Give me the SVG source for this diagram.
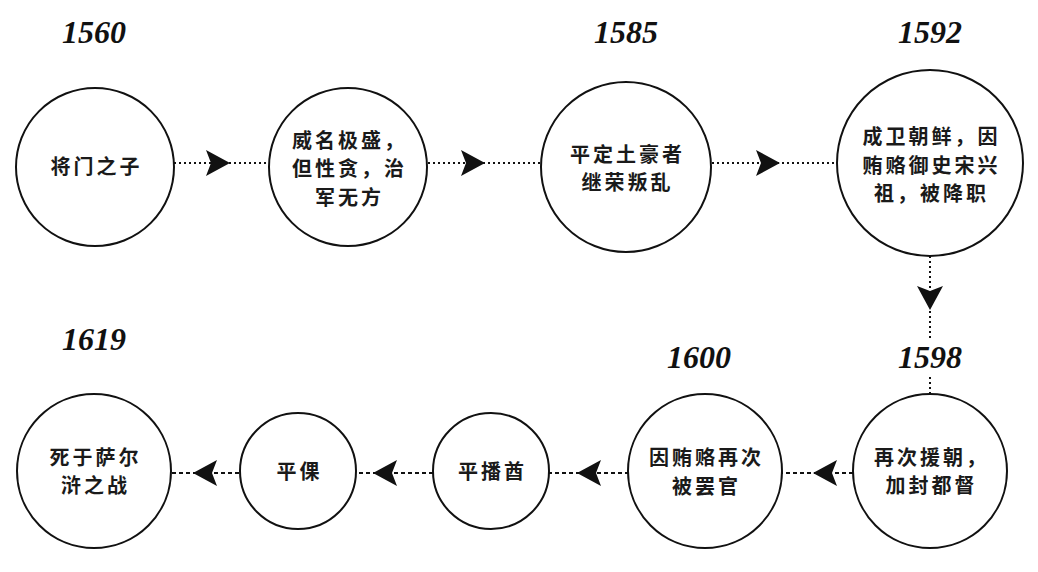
<svg xmlns="http://www.w3.org/2000/svg" width="1038" height="572" viewBox="0 0 1038 572">
<style>
.node{fill:#fff;stroke:#111;stroke-width:2}
.t{font-family:"Noto Sans CJK SC","Noto Sans CJK JP",sans-serif;font-weight:700;font-size:20px;letter-spacing:3px;fill:#1a1a1a;text-anchor:middle}
.yr{font-family:"Liberation Serif","DejaVu Serif",serif;font-weight:700;font-style:italic;font-size:32px;fill:#111;text-anchor:middle}
.dot{fill:none;stroke:#111;stroke-width:2;stroke-dasharray:2 3}
.dash{fill:none;stroke:#111;stroke-width:2;stroke-dasharray:4 3}
</style>
<defs>
<marker id="ah" markerUnits="userSpaceOnUse" markerWidth="32" markerHeight="32" refX="0" refY="0" viewBox="-28 -16 32 32" orient="auto" overflow="visible">
<path d="M0,0 L-24,-13 L-19,0 L-24,13 Z" fill="#111"/>
</marker>
</defs>
<rect width="1038" height="572" fill="#fff"/>
<g id="connectors">
<path class="dot" d="M174,163 L230,163 L269,163" marker-mid="url(#ah)"/>
<path class="dot" d="M428,163 L485,163 L541,163" marker-mid="url(#ah)"/>
<path class="dot" d="M712,163 L780,163 L837,163" marker-mid="url(#ah)"/>
<path class="dot" d="M930,256 L930,310 L930,340" marker-mid="url(#ah)"/>
<path class="dot" d="M930,377 L930,395"/>
<path class="dash" d="M853,473 L813,473 L782,473" marker-mid="url(#ah)"/>
<path class="dash" d="M629,473 L577,473 L549,473" marker-mid="url(#ah)"/>
<path class="dash" d="M433,473 L373,473 L356,473" marker-mid="url(#ah)"/>
<path class="dash" d="M239,473 L193,473 L171,473" marker-mid="url(#ah)"/>
</g>
<g id="labels">
<text class="yr" x="94" y="43">1560</text>
<text class="yr" x="626" y="43">1585</text>
<text class="yr" x="930" y="43">1592</text>
<text class="yr" x="930" y="368">1598</text>
<text class="yr" x="699" y="368">1600</text>
<text class="yr" x="94" y="350">1619</text>
</g>
<g id="n1">
<circle class="node" cx="95" cy="167" r="79"/>
<text class="t" x="96.5" y="174">将门之子</text>
</g>
<g id="n2">
<circle class="node" cx="348" cy="167" r="79"/>
<text class="t" x="349.5" y="148">威名极盛，</text>
<text class="t" x="349.5" y="176">但性贪，治</text>
<text class="t" x="349.5" y="205">军无方</text>
</g>
<g id="n3">
<circle class="node" cx="626" cy="167" r="85"/>
<text class="t" x="627.5" y="162">平定土豪者</text>
<text class="t" x="627.5" y="190">继荣叛乱</text>
</g>
<g id="n4">
<circle class="node" cx="930" cy="163" r="93"/>
<text class="t" x="931.5" y="144">成卫朝鲜，因</text>
<text class="t" x="931.5" y="173">贿赂御史宋兴</text>
<text class="t" x="931.5" y="201">祖，被降职</text>
</g>
<g id="n5">
<circle class="node" cx="930" cy="471" r="77"/>
<text class="t" x="931.5" y="465">再次援朝，</text>
<text class="t" x="931.5" y="493">加封都督</text>
</g>
<g id="n6">
<circle class="node" cx="705" cy="471" r="77"/>
<text class="t" x="706.5" y="465">因贿赂再次</text>
<text class="t" x="706.5" y="494">被罢官</text>
</g>
<g id="n7">
<circle class="node" cx="491" cy="471" r="58"/>
<text class="t" x="492.5" y="479">平播酋</text>
</g>
<g id="n8">
<circle class="node" cx="298" cy="471" r="58"/>
<text class="t" x="299.5" y="479">平倮</text>
</g>
<g id="n9">
<circle class="node" cx="94" cy="471" r="77"/>
<text class="t" x="95.5" y="465">死于萨尔</text>
<text class="t" x="95.5" y="493">浒之战</text>
</g>
</svg>
